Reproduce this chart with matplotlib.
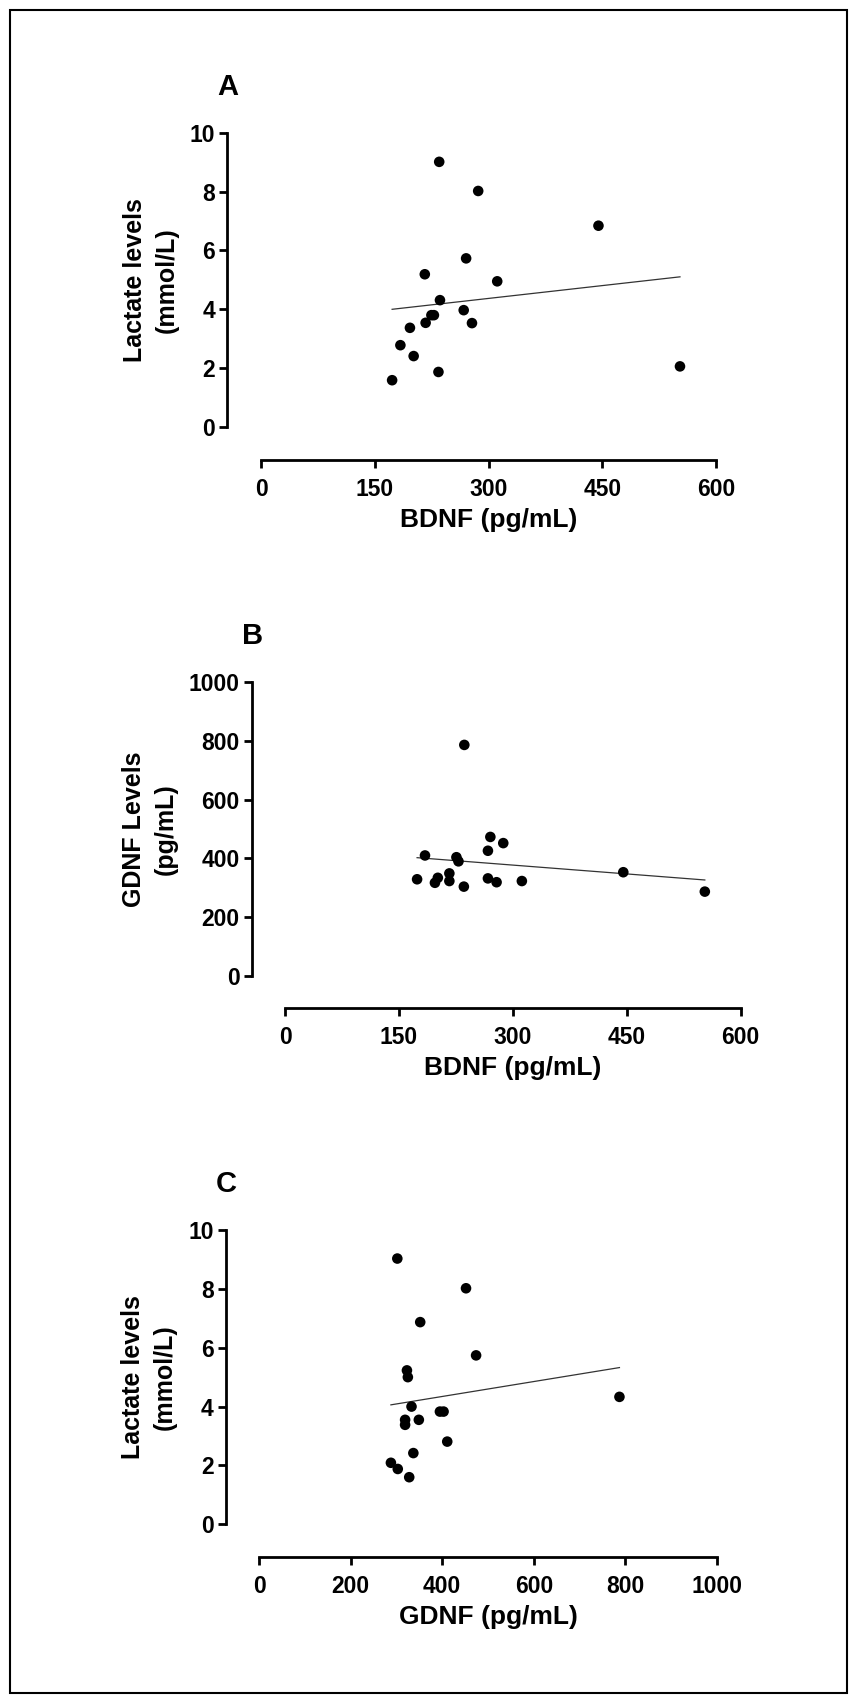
import numpy as np
import matplotlib
matplotlib.use("Agg")
import matplotlib.pyplot as plt
from matplotlib.patches import Rectangle

plt.rcParams['font.family'] = ['Liberation Sans', 'DejaVu Sans']
plt.rcParams['font.weight'] = 'bold'
plt.rcParams['axes.labelweight'] = 'bold'

# ---------------- data ----------------
# Panel A: BDNF vs lactate
bdnf_a = [172.9, 183.8, 196.4, 201.3, 216.0, 217.1, 224.7, 228.0, 234.0,
          235.0, 236.0, 267.3, 270.5, 278.2, 286.4, 311.5, 445.0, 552.5]
lactate_a = [1.59, 2.78, 3.37, 2.41, 5.19, 3.54, 3.80, 3.80, 1.87,
             9.01, 4.31, 3.97, 5.73, 3.53, 8.02, 4.95, 6.84, 2.06]

# Panel B: BDNF vs GDNF
bdnf_b = [174.0, 184.4, 197.5, 201.3, 216.5, 216.5, 225.8, 228.5, 235.6,
          236.2, 267.3, 267.3, 270.5, 278.7, 287.5, 312.0, 445.6, 553.0]
gdnf_b = [329, 410, 317, 334, 349, 323, 404, 390, 304,
          786, 426, 332, 473, 319, 452, 323, 353, 287]

# Panel C: GDNF vs lactate
gdnf_c = [302, 452, 352, 474, 323, 325, 787, 333, 395,
          403, 319, 349, 319, 411, 337, 288, 303, 328]
lactate_c = [9.03, 8.02, 6.87, 5.74, 5.23, 5.00, 4.33, 4.00, 3.83,
             3.83, 3.55, 3.55, 3.38, 2.81, 2.42, 2.09, 1.88, 1.60]

x_ticks_bdnf = [0, 150, 300, 450, 600]
x_ticks_gdnf = [0, 200, 400, 600, 800, 1000]
y_ticks_lact = [0, 2, 4, 6, 8, 10]
y_ticks_gdnf = [0, 200, 400, 600, 800, 1000]

W, H = 857, 1703
DPI = 100
fig = plt.figure(figsize=(W / DPI, H / DPI), dpi=DPI)
fig.patch.set_facecolor('white')

# outer frame
fig.add_artist(Rectangle((10 / W, 10 / H), (W - 20) / W, (H - 20) / H,
                         transform=fig.transFigure, fill=False,
                         edgecolor='black', linewidth=1.5))

PT = 72.0 / DPI  # points per pixel


def make_panel(letter, x, y, xticks, yticks, xlabel, ylabel,
               x0, x1, ytop, ybot, spine_gap, axis_gap, ylabelpad):
    ax = fig.add_axes([x0 / W, 1 - ybot / H, (x1 - x0) / W, (ybot - ytop) / H])
    ax.set_xlim(xticks[0], xticks[-1])
    ax.set_ylim(yticks[0], yticks[-1])
    ax.scatter(x, y, s=58, color='black', zorder=3, clip_on=False,
               edgecolors='none')
    slope, intercept = np.polyfit(x, y, 1)
    xs = np.array([min(x), max(x)])
    ax.plot(xs, slope * xs + intercept, color='#333333', lw=0.9, zorder=2)

    for s in ('top', 'right'):
        ax.spines[s].set_visible(False)
    ax.spines['left'].set_position(('outward', spine_gap * PT))
    ax.spines['bottom'].set_position(('outward', axis_gap * PT))
    for s in ('left', 'bottom'):
        ax.spines[s].set_linewidth(2.0)
    ax.set_xticks(xticks)
    ax.set_yticks(yticks)
    ax.tick_params(axis='both', width=2.0, length=6, labelsize=16.5)
    ax.tick_params(axis='x', pad=7)
    ax.tick_params(axis='y', pad=2.5)
    for lab in ax.get_xticklabels() + ax.get_yticklabels():
        lab.set_fontweight('bold')
    ax.set_xlabel(xlabel, fontsize=19, fontweight='bold', labelpad=5)
    ax.set_ylabel(ylabel, fontsize=18, fontweight='bold', labelpad=ylabelpad,
                  linespacing=1.4)
    ax.patch.set_alpha(0)
    # panel letter, above the y axis
    fig.text((x0 - spine_gap + 1) / W, 1 - (ytop - 46) / H, letter,
             fontsize=21, fontweight='bold', ha='center', va='center')
    return ax


make_panel('A', bdnf_a, lactate_a, x_ticks_bdnf, y_ticks_lact,
           'BDNF (pg/mL)', 'Lactate levels\n(mmol/L)',
           261, 716, 132.7, 427, 34, 32.5, 8)
make_panel('B', bdnf_b, gdnf_b, x_ticks_bdnf, y_ticks_gdnf,
           'BDNF (pg/mL)', 'GDNF Levels\n(pg/mL)',
           285, 740.5, 682, 976, 33.5, 32, 8)
make_panel('C', gdnf_c, lactate_c, x_ticks_gdnf, y_ticks_lact,
           'GDNF (pg/mL)', 'Lactate levels\n(mmol/L)',
           259, 717, 1230, 1524.3, 33.5, 32.5, 8)

fig.savefig('out.png', dpi=DPI)
